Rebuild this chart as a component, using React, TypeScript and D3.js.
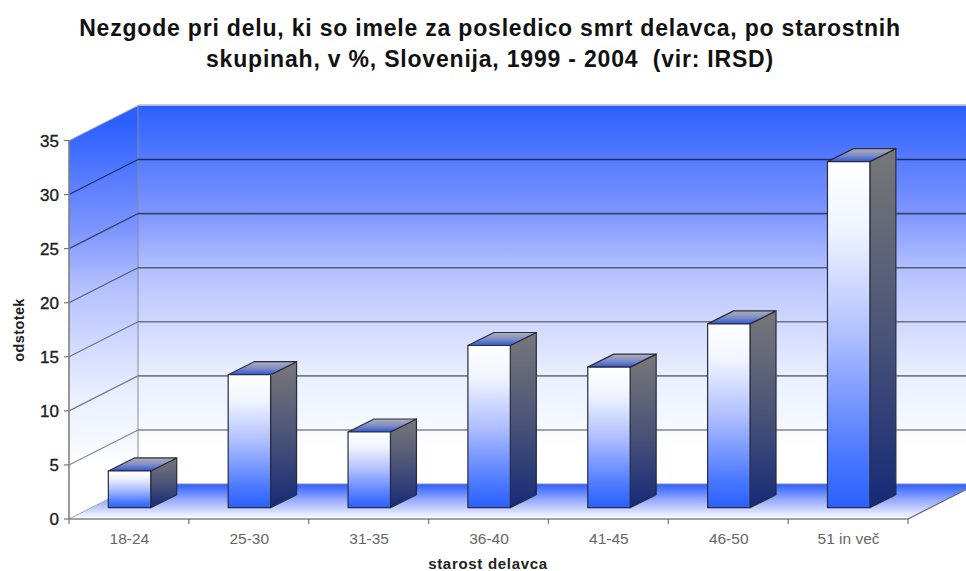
import React from "react";
import * as d3 from "d3";

const title = [
  "Nezgode pri delu, ki so imele za posledico smrt delavca, po starostnih",
  "skupinah, v %, Slovenija, 1999 - 2004  (vir: IRSD)",
];
const categories = ["18-24", "25-30", "31-35", "36-40", "41-45", "46-50", "51 in več"];
const values = [3.4, 12.3, 7, 15, 13, 17, 32];
const yTicks = [0, 5, 10, 15, 20, 25, 30, 35];

const W = 966;
const H = 571;
const frontLeft = 69;
const frontRight = 908;
const frontBottom = 519;
const frontTop = 140.5;
const depthX = 69;
const depthY = -35;
const barDepthX = 26;
const barDepthY = -13;
const barFloorLift = 11.3;
const barWidth = 42.4;

const y = d3.scaleLinear().domain([0, 35]).range([frontBottom, frontTop]);
const x = d3.scaleBand<string>().domain(categories).range([frontLeft, frontRight]);
const edges = [...categories.map((c) => x(c) as number), frontRight];
const poly = (pts: [number, number][]) => pts.map((p) => p.join(",")).join(" ");

// Blue-to-white fade shared by the back and side walls
const wallStops: [number, string][] = [
  [0, "#2b60ff"],
  [0.32, "#7f96ff"],
  [0.48, "#b3c0ff"],
  [0.64, "#d0d8ff"],
  [0.8, "#e9f0ff"],
  [0.95, "#f6f9ff"],
  [1, "#ffffff"],
];
const gridColor = d3.scaleLinear<string>().domain([5, 15, 30]).range(["#858585", "#6f7280", "#1f2c60"]);

export default function App() {
  const wallBottom = frontBottom + depthY;
  const wallTop = frontTop + depthY;
  const backLeft = frontLeft + depthX;
  const backRight = frontRight + depthX;
  const yBar = (v: number) => y(v) - barFloorLift;
  const barBase = yBar(0);

  return (
    <svg
      width={W}
      height={H}
      viewBox={`0 0 ${W} ${H}`}
      style={{ position: "fixed", left: 0, top: 0, display: "block", background: "#fff" }}
      fontFamily="'Liberation Sans', Arial, sans-serif"
    >
      <defs>
        <linearGradient id="wallFill" gradientUnits="userSpaceOnUse" x1="0" x2="0" y1={wallTop} y2={445}>
          {wallStops.map(([o, c]) => (
            <stop key={o} offset={o} stopColor={c} />
          ))}
        </linearGradient>
        <linearGradient id="sideFill" gradientUnits="userSpaceOnUse" x1="0" x2="0" y1={wallTop + 17} y2={465}>
          {wallStops.map(([o, c]) => (
            <stop key={o} offset={o} stopColor={c} />
          ))}
        </linearGradient>
        <linearGradient id="floorFill" gradientUnits="userSpaceOnUse" x1="0" x2="0" y1={wallBottom} y2={frontBottom}>
          <stop offset="0" stopColor="#2b60ff" />
          <stop offset="0.45" stopColor="#94a8ff" />
          <stop offset="1" stopColor="#ffffff" />
        </linearGradient>
        <linearGradient id="frontFill" x1="0" x2="0" y1="0" y2="1">
          <stop offset="0" stopColor="#ffffff" />
          <stop offset="0.2" stopColor="#eff4ff" />
          <stop offset="0.5" stopColor="#b0bfff" />
          <stop offset="0.85" stopColor="#4a78ff" />
          <stop offset="1" stopColor="#2b60ff" />
        </linearGradient>
        <linearGradient id="sideBarFill" x1="0" x2="0" y1="0" y2="1">
          <stop offset="0" stopColor="#787878" />
          <stop offset="0.5" stopColor="#4c5578" />
          <stop offset="1" stopColor="#152a78" />
        </linearGradient>
        <linearGradient id="topFill" x1="0" x2="0" y1="1" y2="0">
          <stop offset="0" stopColor="#2b55d8" />
          <stop offset="0.45" stopColor="#7a8ac8" />
          <stop offset="1" stopColor="#b0b0b4" />
        </linearGradient>
      </defs>

      {title.map((t, i) => (
        <text
          key={i}
          x={490}
          y={36 + i * 30.7}
          textAnchor="middle"
          fontSize={23}
          letterSpacing={0.8}
          fontWeight="bold"
          fill="#111"
          style={{ whiteSpace: "pre" }}
        >
          {t}
        </text>
      ))}

      {/* chart walls and floor */}
      <rect x={backLeft} y={wallTop} width={W - backLeft} height={wallBottom - wallTop} fill="url(#wallFill)" />
      <polygon
        points={poly([
          [frontLeft, frontTop],
          [backLeft, wallTop],
          [backLeft, wallBottom],
          [frontLeft, frontBottom],
        ])}
        fill="url(#sideFill)"
      />
      <polygon
        points={poly([
          [frontLeft, frontBottom],
          [backLeft, wallBottom],
          [backRight, wallBottom],
          [frontRight, frontBottom],
        ])}
        fill="url(#floorFill)"
      />
      <line x1={backLeft} x2={W} y1={wallTop - 0.5} y2={wallTop - 0.5} stroke="#b8bcc8" strokeWidth={1.5} />
      <line x1={backLeft} x2={backLeft} y1={wallTop} y2={wallBottom} stroke="#8a8a98" strokeWidth={1} />
      <line x1={backLeft} x2={W} y1={wallBottom} y2={wallBottom} stroke="#8a8a98" strokeWidth={1} />
      <line x1={frontLeft} x2={backLeft} y1={frontTop} y2={wallTop} stroke="#b8bcc8" strokeWidth={1} />
      <line x1={frontLeft} x2={backLeft} y1={frontBottom} y2={wallBottom} stroke="#a8a8a8" strokeWidth={1} />
      <line x1={frontRight} x2={backRight} y1={frontBottom} y2={wallBottom} stroke="#666" strokeWidth={1.2} />

      {/* gridlines */}
      {yTicks
        .filter((t) => t > 0 && t < 35)
        .map((t) => (
          <g key={t} stroke={gridColor(t)}>
            <line x1={frontLeft} y1={y(t)} x2={backLeft} y2={y(t) + depthY} strokeWidth={1.2} />
            <line x1={backLeft} y1={y(t) + depthY} x2={W} y2={y(t) + depthY} strokeWidth={1.6} />
          </g>
        ))}

      {/* value axis */}
      <line x1={frontLeft} x2={frontLeft} y1={frontTop} y2={frontBottom} stroke="#808080" strokeWidth={1.6} />
      {yTicks.map((t) => (
        <g key={t}>
          <line x1={frontLeft - 5} x2={frontLeft} y1={y(t)} y2={y(t)} stroke="#777" strokeWidth={1.2} />
          <text x={59} y={y(t) + 6} textAnchor="end" fontSize={17} fill="#222" stroke="#222" strokeWidth={0.35}>
            {t}
          </text>
        </g>
      ))}

      {/* category axis */}
      <line x1={frontLeft} x2={frontRight} y1={frontBottom} y2={frontBottom} stroke="#808080" strokeWidth={1.6} />
      {edges.map((e) => (
        <line key={e} x1={e} x2={e} y1={frontBottom} y2={frontBottom + 5} stroke="#777" strokeWidth={1.2} />
      ))}
      {categories.map((c) => (
        <text key={c} x={(x(c) as number) + x.bandwidth() / 2 + 0.5} y={544} textAnchor="middle" fontSize={15.5} fill="#666">
          {c}
        </text>
      ))}

      {/* bars */}
      {values.map((v, i) => {
        const cx = (x(categories[i]) as number) + x.bandwidth() / 2 + 0.6;
        const l = cx - barWidth / 2;
        const r = cx + barWidth / 2;
        const t = yBar(v);
        return (
          <g key={categories[i]} stroke="#2a2d3c" strokeWidth={1.2} strokeLinejoin="round">
            <polygon
              points={poly([
                [r, t],
                [r + barDepthX, t + barDepthY],
                [r + barDepthX, barBase + barDepthY],
                [r, barBase],
              ])}
              fill="url(#sideBarFill)"
            />
            <polygon
              points={poly([
                [l, t],
                [l + barDepthX, t + barDepthY],
                [r + barDepthX, t + barDepthY],
                [r, t],
              ])}
              fill="url(#topFill)"
            />
            <rect x={l} y={t} width={barWidth} height={barBase - t} fill="url(#frontFill)" />
          </g>
        );
      })}

      <text
        x={0}
        y={0}
        transform="translate(24,330) rotate(-90)"
        textAnchor="middle"
        fontSize={14.5}
        letterSpacing={0.4}
        fontWeight="bold"
        fill="#222"
      >
        odstotek
      </text>
      <text x={488} y={568.5} textAnchor="middle" fontSize={15} letterSpacing={0.7} fontWeight="bold" fill="#222">
        starost delavca
      </text>
    </svg>
  );
}
